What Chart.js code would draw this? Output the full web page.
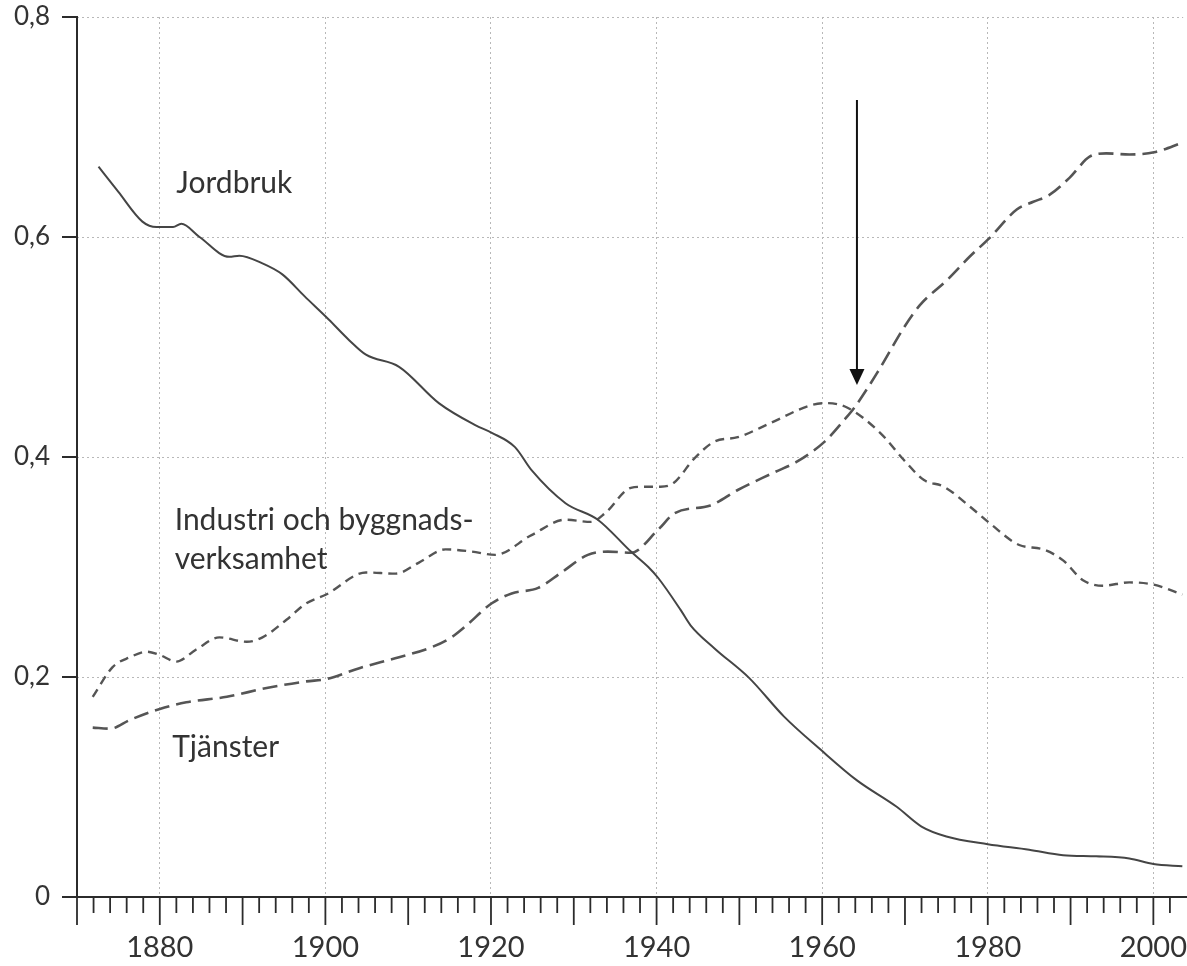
<!DOCTYPE html>
<html>
<head>
<meta charset="utf-8">
<script src="https://cdn.jsdelivr.net/npm/chart.js@4/dist/chart.umd.min.js"></script>
<style>
  html, body { margin: 0; padding: 0; background: #ffffff; }
  #wrap { width: 1187px; height: 966px; position: relative; }
</style>
</head>
<body>
<div id="wrap"><canvas id="c" width="1187" height="966"></canvas></div>
<script>
// ---- Data ----
const jordbrukYears = [1872.6, 1875, 1877.9, 1879.6, 1881.6, 1882.6, 1884.8, 1888.4, 1889.6, 1892.4, 1894.8, 1897.5, 1900.4, 1902.9, 1904.9, 1908.9, 1913.7, 1918.1, 1920.1, 1922.9, 1924.9, 1929.0, 1932.9, 1936.9, 1939.0, 1940.2, 1942.9, 1944.1, 1947.0, 1951.2, 1955.4, 1959.8, 1964.2, 1969.0, 1972, 1975, 1980, 1985, 1989.1, 1993.1, 1997.1, 2000, 2003.5];
const jordbrukValues = [0.664, 0.641, 0.614, 0.609, 0.609, 0.612, 0.600, 0.582, 0.583, 0.576, 0.566, 0.546, 0.525, 0.506, 0.493, 0.482, 0.449, 0.429, 0.422, 0.409, 0.388, 0.358, 0.343, 0.314, 0.300, 0.290, 0.261, 0.247, 0.226, 0.199, 0.164, 0.134, 0.106, 0.082, 0.064, 0.055, 0.048, 0.043, 0.038, 0.037, 0.035, 0.030, 0.028];

const industriYears = [1871.9, 1874.3, 1876.4, 1878.4, 1880.0, 1882.0, 1884.4, 1887.2, 1890.5, 1892.4, 1895.3, 1897.7, 1900.1, 1904.9, 1908.5, 1911.3, 1914.5, 1917.7, 1920.5, 1924.9, 1929.0, 1932.1, 1933.8, 1936.9, 1938.6, 1940.5, 1942.0, 1944.6, 1947.0, 1949.8, 1953.8, 1958.6, 1960.6, 1963.0, 1967.0, 1969.9, 1972.3, 1974.7, 1978.3, 1980.2, 1983.8, 1986.7, 1989.1, 1991.5, 1993.9, 1997.1, 2000.0, 2003.5];
const industriValues = [0.182, 0.209, 0.218, 0.223, 0.220, 0.214, 0.225, 0.236, 0.232, 0.236, 0.252, 0.267, 0.275, 0.295, 0.294, 0.304, 0.316, 0.314, 0.311, 0.329, 0.343, 0.341, 0.349, 0.372, 0.373, 0.373, 0.376, 0.399, 0.414, 0.418, 0.431, 0.447, 0.449, 0.445, 0.422, 0.397, 0.379, 0.373, 0.352, 0.340, 0.320, 0.316, 0.306, 0.288, 0.283, 0.286, 0.284, 0.275];

const tjansterYears = [1871.9, 1874.0, 1876.4, 1880.0, 1883.2, 1888.1, 1892.9, 1897.7, 1900.1, 1904.1, 1908.9, 1912.8, 1915.2, 1916.9, 1920.1, 1922.5, 1925.7, 1928.5, 1931.7, 1934.1, 1936.9, 1940.2, 1942.2, 1946.5, 1949.8, 1954.2, 1957.0, 1960.3, 1962.7, 1963.9, 1966.6, 1969.9, 1971.8, 1975.1, 1977.8, 1980.2, 1983.5, 1985.5, 1987.4, 1989.9, 1992.3, 1994.3, 1997.1, 2000.1, 2003.6];
const tjansterValues = [0.154, 0.153, 0.161, 0.171, 0.177, 0.182, 0.190, 0.196, 0.198, 0.208, 0.218, 0.227, 0.236, 0.246, 0.267, 0.276, 0.281, 0.295, 0.311, 0.314, 0.313, 0.334, 0.349, 0.356, 0.370, 0.386, 0.396, 0.414, 0.434, 0.445, 0.476, 0.518, 0.538, 0.561, 0.582, 0.599, 0.625, 0.632, 0.638, 0.654, 0.673, 0.676, 0.675, 0.677, 0.686];

const xLabelYears = [1880, 1900, 1920, 1940, 1960, 1980, 2000];
const yTickValues = [0, 0.2, 0.4, 0.6, 0.8];
const xMin = 1870, xMax = 2003.6;

// Text annotations (data coordinates)
const seriesLabels = [
  { text: 'Jordbruk', x: 1882.0, y: 0.640 },
  { text: 'Industri och byggnads-', x: 1881.8, y: 0.334 },
  { text: 'verksamhet', x: 1881.8, y: 0.298 },
  { text: 'Tjänster', x: 1881.5, y: 0.127 }
];
const arrowAnno = { x: 1964.2, yFrom: 0.7245, yTo: 0.4655 };

const toPts = (xs, ys) => xs.map((x, i) => ({ x: x, y: ys[i] }));

const INK = '#2b2b2b';
const LINE = '#454545';
const GRID = '#b8b8b8';
const FONT = 'Lato, "Open Sans", "DejaVu Sans", sans-serif';

const decorPlugin = {
  id: 'decor',
  afterDraw(chart) {
    const ctx = chart.ctx;
    const xs = chart.scales.x, ys = chart.scales.y;
    const y0 = ys.getPixelForValue(0);
    const yTop = ys.getPixelForValue(0.8);
    const xAxisPx = xs.getPixelForValue(xMin);
    ctx.save();
    ctx.strokeStyle = INK;
    ctx.lineCap = 'butt';
    // axis lines
    ctx.lineWidth = 2;
    ctx.beginPath();
    ctx.moveTo(xAxisPx, yTop - 1);
    ctx.lineTo(xAxisPx, y0 + 1);
    ctx.stroke();
    ctx.beginPath();
    ctx.moveTo(xAxisPx - 15, y0);
    ctx.lineTo(chart.width, y0);
    ctx.stroke();
    // y ticks
    yTickValues.forEach(v => {
      const p = ys.getPixelForValue(v);
      ctx.beginPath();
      ctx.moveTo(xAxisPx - 15, p);
      ctx.lineTo(xAxisPx, p);
      ctx.stroke();
    });
    // x ticks: every 2 years, long every 10 years
    ctx.lineWidth = 1.8;
    for (let yr = 1870; yr <= xMax; yr += 2) {
      const p = xs.getPixelForValue(yr);
      const long = yr % 10 === 0;
      ctx.beginPath();
      ctx.moveTo(p, y0);
      ctx.lineTo(p, y0 + (long ? 28 : 16));
      ctx.stroke();
    }
    // series labels
    ctx.fillStyle = '#333333';
    ctx.font = '30px ' + FONT;
    ctx.textBaseline = 'alphabetic';
    ctx.textAlign = 'left';
    seriesLabels.forEach(l => {
      ctx.fillText(l.text, xs.getPixelForValue(l.x), ys.getPixelForValue(l.y));
    });
    // arrow
    const ax = xs.getPixelForValue(arrowAnno.x);
    const a1 = ys.getPixelForValue(arrowAnno.yFrom);
    const a2 = ys.getPixelForValue(arrowAnno.yTo);
    ctx.strokeStyle = '#111111';
    ctx.fillStyle = '#111111';
    ctx.lineWidth = 2;
    ctx.beginPath();
    ctx.moveTo(ax, a1);
    ctx.lineTo(ax, a2 - 14);
    ctx.stroke();
    ctx.beginPath();
    ctx.moveTo(ax - 7.5, a2 - 16);
    ctx.lineTo(ax + 7.5, a2 - 16);
    ctx.lineTo(ax, a2);
    ctx.closePath();
    ctx.fill();
    ctx.restore();
  }
};

new Chart(document.getElementById('c'), {
  type: 'line',
  data: {
    datasets: [
      {
        label: 'Jordbruk',
        data: toPts(jordbrukYears, jordbrukValues),
        borderColor: LINE,
        borderWidth: 2,
        pointRadius: 0,
        cubicInterpolationMode: 'monotone',
        fill: false
      },
      {
        label: 'Industri och byggnadsverksamhet',
        data: toPts(industriYears, industriValues),
        borderColor: '#555555',
        borderWidth: 2.4,
        borderDash: [9, 6],
        pointRadius: 0,
        cubicInterpolationMode: 'monotone',
        fill: false
      },
      {
        label: 'Tjänster',
        data: toPts(tjansterYears, tjansterValues),
        borderColor: '#555555',
        borderWidth: 2.6,
        borderDash: [15, 7],
        pointRadius: 0,
        cubicInterpolationMode: 'monotone',
        fill: false
      }
    ]
  },
  options: {
    responsive: false,
    animation: false,
    maintainAspectRatio: false,
    layout: { padding: { top: 17, right: 0, left: 0, bottom: 0 } },
    plugins: { legend: { display: false }, tooltip: { enabled: false } },
    scales: {
      x: {
        type: 'linear',
        min: xMin,
        max: xMax,
        afterBuildTicks: (scale) => { scale.ticks = xLabelYears.map(v => ({ value: v })); },
        afterFit: (scale) => { scale.height = 69; },
        grid: { color: GRID, lineWidth: 1, drawTicks: true, tickLength: 33, tickColor: 'rgba(0,0,0,0)', drawOnChartArea: true },
        border: { display: false, dash: [2, 3] },
        ticks: {
          padding: 0,
          color: '#333333',
          font: { family: FONT, size: 29 },
          maxRotation: 0,
          autoSkip: false,
          callback: (v) => String(v)
        }
      },
      y: {
        type: 'linear',
        min: 0,
        max: 0.8,
        afterBuildTicks: (scale) => { scale.ticks = yTickValues.map(v => ({ value: v })); },
        afterFit: (scale) => { scale.width = 77; },
        grid: {
          color: (c) => (c.tick && c.tick.value === 0) ? 'rgba(0,0,0,0)' : GRID,
          lineWidth: 1,
          drawTicks: true,
          tickLength: 27,
          tickColor: 'rgba(0,0,0,0)'
        },
        border: { display: false, dash: [2, 3] },
        ticks: {
          padding: 0,
          color: '#333333',
          font: { family: FONT, size: 26 },
          callback: (v) => v === 0 ? '0' : Number(v).toFixed(1).replace('.', ',')
        }
      }
    }
  },
  plugins: [decorPlugin]
});
</script>
</body>
</html>
